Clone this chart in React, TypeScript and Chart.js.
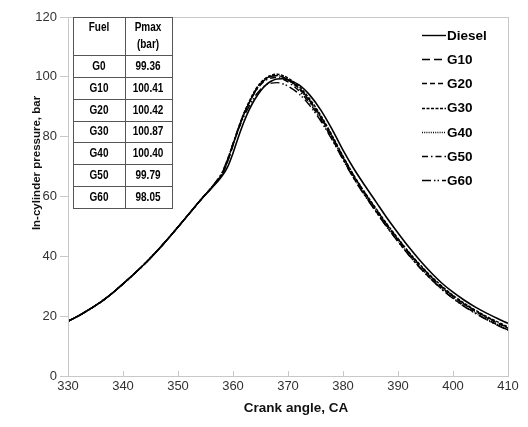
import React, { useEffect, useRef } from "react";
import { Chart, registerables } from "chart.js";

Chart.register(...registerables);

const angles = [330, 332, 334, 336, 338, 340, 342, 344, 346, 348, 350, 352, 354, 356, 357, 358, 359, 360, 361, 362, 363, 364, 365, 366, 367, 368, 369, 370, 372, 374, 376, 378, 380, 382, 384, 386, 388, 390, 392, 394, 396, 398, 400, 402, 404, 406, 408, 410];

const compression = [18.3, 20.2, 22.4, 24.8, 27.6, 30.8, 34.1, 37.6, 41.4, 45.5, 49.8, 54.2, 58.6];

const diesel = [...compression, 62.6, 64.6, 66.8, 69.8, 74.5, 80.0, 85.0, 89.2, 92.6, 95.3, 97.3, 98.6, 99.3, 99.36, 99.0, 97.3, 93.8, 88.8, 82.5, 75.5, 69.2, 63.6, 58.2, 52.8, 47.8, 43.0, 38.6, 34.6, 31.0, 28.0, 25.4, 23.1, 21.1, 19.3, 17.6];
const g10 = [...compression, 62.7, 64.8, 67.3, 71.5, 77.0, 82.5, 87.5, 91.5, 95.0, 97.6, 99.3, 100.2, 100.41, 100.0, 99.1, 96.3, 92.0, 86.6, 80.2, 73.3, 66.8, 61.1, 55.8, 50.6, 45.8, 41.2, 37.0, 33.2, 29.8, 26.8, 24.2, 21.9, 19.8, 17.9, 16.2];
const g20 = [...compression, 62.7, 64.9, 67.4, 71.7, 77.2, 82.7, 87.6, 91.6, 95.1, 97.7, 99.4, 100.25, 100.42, 100.0, 99.0, 96.1, 91.8, 86.4, 80.0, 73.1, 66.6, 60.9, 55.6, 50.4, 45.6, 41.0, 36.8, 33.0, 29.6, 26.6, 24.0, 21.7, 19.6, 17.7, 16.0];
const g30 = [...compression, 62.8, 65.0, 67.5, 72.0, 77.5, 83.0, 88.0, 92.0, 95.5, 98.0, 99.7, 100.6, 100.87, 100.5, 99.6, 96.8, 92.5, 87.0, 80.5, 73.5, 67.0, 61.3, 56.0, 50.8, 46.0, 41.4, 37.2, 33.4, 30.0, 27.0, 24.4, 22.1, 20.0, 18.2, 16.4];
const g40 = [...compression, 62.8, 65.0, 67.6, 72.0, 77.5, 83.0, 87.8, 91.8, 95.2, 97.8, 99.4, 100.2, 100.40, 99.9, 98.9, 95.9, 91.5, 86.0, 79.6, 72.7, 66.2, 60.5, 55.2, 50.0, 45.2, 40.6, 36.4, 32.6, 29.2, 26.2, 23.6, 21.3, 19.2, 17.3, 15.6];
const g50 = [...compression, 62.8, 65.0, 67.8, 72.3, 77.7, 83.0, 87.6, 91.5, 94.8, 97.3, 98.9, 99.6, 99.79, 99.3, 98.3, 95.3, 91.0, 85.6, 79.3, 72.5, 66.0, 60.3, 55.0, 49.8, 45.0, 40.4, 36.2, 32.4, 29.0, 26.0, 23.4, 21.1, 19.0, 17.1, 15.4];
const g60 = [...compression, 62.9, 65.2, 68.0, 72.5, 77.6, 82.5, 86.8, 90.4, 93.5, 95.8, 97.3, 97.9, 98.05, 97.7, 96.9, 94.3, 90.3, 85.1, 79.0, 72.3, 65.9, 60.2, 54.9, 49.7, 44.9, 40.3, 36.1, 32.3, 28.9, 25.9, 23.3, 21.0, 18.9, 17.0, 15.3];

const seriesNames = ["Diesel", "G10", "G20", "G30", "G40", "G50", "G60"];
const seriesValues = [diesel, g10, g20, g30, g40, g50, g60];
const dashes: number[][] = [[], [8, 4], [5, 3], [3, 1.5], [1, 1.2], [6, 3, 1.5, 3], [9, 3, 1.5, 2, 1.5, 3]];

const tableFuels = ["G0", "G10", "G20", "G30", "G40", "G50", "G60"];
const tablePmax = ["99.36", "100.41", "100.42", "100.87", "100.40", "99.79", "98.05"];

const xTicks = [330, 340, 350, 360, 370, 380, 390, 400, 410];

const GREY = "#c8c8c8";
const FONT = "'Liberation Sans', Arial, sans-serif";

const decorPlugin = {
  id: "decor",
  afterDraw(chart: any) {
    const ctx = chart.ctx;
    const a = chart.chartArea;
    const xs = chart.scales.x;
    ctx.save();
    // plot border
    ctx.strokeStyle = GREY;
    ctx.lineWidth = 1;
    ctx.strokeRect(Math.round(a.left) + 0.5, Math.round(a.top) + 0.5, Math.round(a.right - a.left), Math.round(a.bottom - a.top));
    // inward x ticks
    ctx.beginPath();
    xTicks.forEach((v) => {
      const px = Math.round(xs.getPixelForValue(v)) + 0.5;
      ctx.moveTo(px, a.bottom);
      ctx.lineTo(px, a.bottom - 5);
    });
    ctx.stroke();

    // axis titles
    ctx.fillStyle = "#111";
    ctx.font = `bold 13.5px ${FONT}`;
    ctx.textAlign = "center";
    ctx.textBaseline = "middle";
    ctx.fillText("Crank angle, CA", 296, 408);
    ctx.save();
    ctx.translate(37, 163);
    ctx.rotate(-Math.PI / 2);
    ctx.font = `bold 11.5px ${FONT}`;
    ctx.fillText("In-cylinder pressure, bar", 0, 0);
    ctx.restore();

    // legend
    seriesNames.forEach((name, i) => {
      const y = 35 + i * 24.2;
      ctx.save();
      ctx.strokeStyle = "#000";
      ctx.lineWidth = 1.4;
      ctx.setLineDash(dashes[i]);
      ctx.beginPath();
      ctx.moveTo(422, Math.round(y) + 0.5);
      ctx.lineTo(446, Math.round(y) + 0.5);
      ctx.stroke();
      ctx.restore();
      ctx.font = `bold 13.5px ${FONT}`;
      ctx.textAlign = "left";
      ctx.fillStyle = "#000";
      ctx.fillText(name, 447, y + 1);
    });

    // table
    const L = 73, R = 172, T = 17, B = 208, M = 125;
    const rowTop = 55;
    const rowH = (B - rowTop) / tableFuels.length;
    ctx.fillStyle = "#fff";
    ctx.fillRect(L, T, R - L, B - T);
    ctx.strokeStyle = "#555";
    ctx.lineWidth = 1;
    ctx.strokeRect(L + 0.5, T + 0.5, R - L, B - T);
    ctx.beginPath();
    ctx.moveTo(M + 0.5, T);
    ctx.lineTo(M + 0.5, B);
    for (let i = 0; i < tableFuels.length; i++) {
      const yy = Math.round(rowTop + i * rowH) + 0.5;
      ctx.moveTo(L, yy);
      ctx.lineTo(R, yy);
    }
    ctx.stroke();
    const drawNarrow = (t: string, x: number, y: number) => {
      ctx.save();
      ctx.translate(x, y);
      ctx.scale(0.8, 1);
      ctx.fillText(t, 0, 0);
      ctx.restore();
    };
    ctx.fillStyle = "#000";
    ctx.textAlign = "center";
    ctx.font = `bold 12.5px ${FONT}`;
    drawNarrow("Fuel", 99, 28);
    drawNarrow("Pmax", 148, 28);
    drawNarrow("(bar)", 148, 45);
    tableFuels.forEach((f, i) => {
      const cy = rowTop + i * rowH + rowH / 2 + 0.5;
      drawNarrow(f, 99, cy);
      drawNarrow(tablePmax[i], 148, cy);
    });
    ctx.restore();
  },
};

export default function App() {
  const ref = useRef<HTMLCanvasElement | null>(null);
  useEffect(() => {
    if (!ref.current) return;
    const chart = new Chart(ref.current, {
      type: "line",
      data: {
        datasets: seriesNames.map((name, i) => ({
          label: name,
          data: angles.map((a, j) => ({ x: a, y: seriesValues[i][j] })),
          borderColor: "#000",
          borderWidth: i === 0 ? 1.6 : 1.4,
          borderDash: dashes[i],
          pointRadius: 0,
          fill: false,
          cubicInterpolationMode: "monotone" as const,
        })),
      },
      options: {
        animation: false,
        responsive: false,
        events: [],
        layout: { padding: { left: 0, right: 20, top: 17, bottom: 0 } },
        plugins: { legend: { display: false }, tooltip: { enabled: false } },
        scales: {
          x: {
            type: "linear",
            min: 330,
            max: 410,
            afterFit: (s: any) => { s.height = 51; },
            afterBuildTicks: (s: any) => { s.ticks = xTicks.map((v) => ({ value: v })); },
            ticks: { stepSize: 10, padding: 3, color: "#333", font: { size: 13, family: FONT } },
            grid: { drawOnChartArea: false, drawTicks: false, color: GREY },
            border: { display: true, color: GREY },
          },
          y: {
            min: 0,
            max: 120,
            afterFit: (s: any) => { s.width = 68; },
            ticks: { stepSize: 20, padding: 3, color: "#333", font: { size: 13, family: FONT } },
            grid: { drawOnChartArea: false, tickLength: 8, color: GREY },
            border: { display: true, color: GREY },
          },
        },
      },
      plugins: [decorPlugin],
    });
    return () => chart.destroy();
  }, []);
  return (
    <div style={{ position: "absolute", left: 0, top: 0, width: 528, height: 427, background: "#fff" }}>
      <canvas ref={ref} width={528} height={427} />
    </div>
  );
}
